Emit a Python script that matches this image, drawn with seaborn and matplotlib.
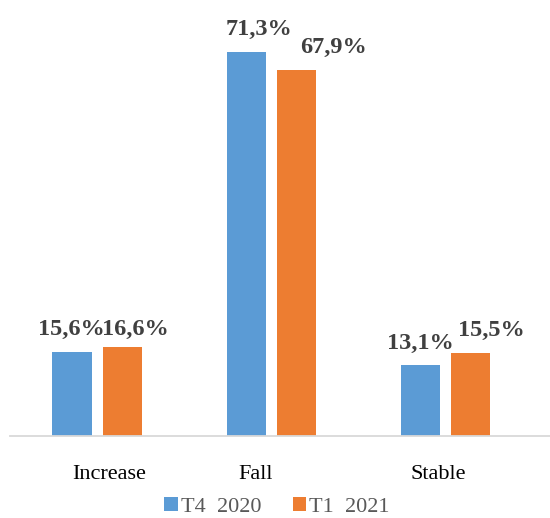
import matplotlib
matplotlib.use("Agg")
import matplotlib.pyplot as plt
import matplotlib.transforms as mtransforms
import seaborn as sns
import pandas as pd

categories = ["Increase", "Fall", "Stable"]
series_names = ["T4  2020", "T1  2021"]
t4_2020 = [15.6, 71.3, 13.1]
t1_2021 = [16.6, 67.9, 15.5]
colors = ["#5B9BD5", "#ED7D31"]

df = pd.DataFrame({
    "cat": categories * 2,
    "series": [series_names[0]] * 3 + [series_names[1]] * 3,
    "val": t4_2020 + t1_2021,
})

sns.set_theme(style="white")
plt.rcParams["font.family"] = ["Liberation Serif", "DejaVu Serif"]

fig = plt.figure(figsize=(5.5, 5.18), dpi=100)
ax = fig.add_axes([10 / 550, 82 / 518, 540 / 550, 436 / 518])

sns.barplot(data=df, x="cat", y="val", hue="series", order=categories,
            hue_order=series_names, palette=colors, width=0.575, gap=0.22,
            saturation=1, linewidth=0, ax=ax, legend=True)

ax.set_xlim(-0.5, 2.603)
ax.set_ylim(0, 80.95)
ax.set_xlabel("")
ax.set_ylabel("")
ax.set_yticks([])
for s in ["top", "right", "left"]:
    ax.spines[s].set_visible(False)
ax.spines["bottom"].set_color("#D9D9D9")
ax.spines["bottom"].set_linewidth(1.3)
ax.tick_params(axis="x", length=0, pad=21, labelsize=16, labelcolor="#000000")

# label shifts (px) for category labels
cat_shift = [12, -15, -6.5]
for lab, dx in zip(ax.get_xticklabels(), cat_shift):
    lab.set_transform(lab.get_transform() + mtransforms.ScaledTranslation(dx / 100, 0, fig.dpi_scale_trans))

# data labels: (dx px, gap px) per bar
offsets = {
    (0, 0): (-0.5, 17), (0, 1): (12.5, 17), (0, 2): (0, 16),
    (1, 0): (13, 12), (1, 1): (37.5, 17), (1, 2): (21, 17),
}
values = [t4_2020, t1_2021]
for si, cont in enumerate(ax.containers):
    for ci, bar in enumerate(cont):
        dx, gap = offsets[(si, ci)]
        x = bar.get_x() + bar.get_width() / 2
        y = bar.get_height()
        txt = f"{values[si][ci]:.1f}".replace(".", ",") + "%"
        ax.annotate(txt, (x, y), xytext=(dx * 0.72, gap * 0.72), textcoords="offset points",
                    ha="center", va="baseline", fontsize=17.5, fontweight="bold",
                    color="#404040", annotation_clip=False)

handles, labels = ax.get_legend_handles_labels()
ax.get_legend().remove()
leg = fig.legend(handles, labels, loc="lower center", bbox_to_anchor=(0.504, 0.002),
                 ncol=2, frameon=False, fontsize=16, handlelength=0.6, handleheight=0.6,
                 handletextpad=0.15, columnspacing=1.4, borderaxespad=0, borderpad=0)
for t in leg.get_texts():
    t.set_color("#595959")

fig.savefig("out.png", dpi=100)
